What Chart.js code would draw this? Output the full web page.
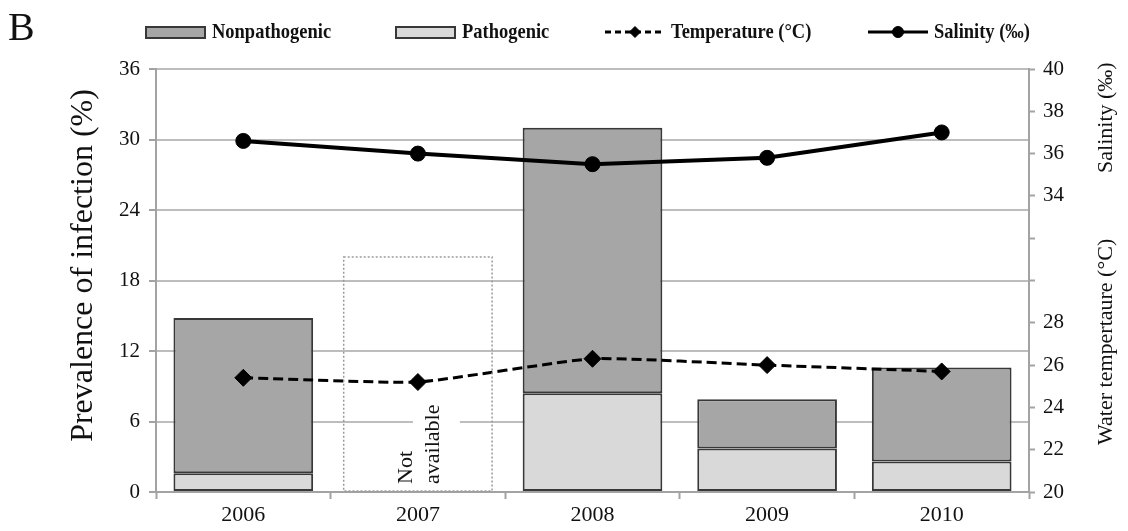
<!DOCTYPE html>
<html>
<head>
<meta charset="utf-8">
<script src="https://cdn.jsdelivr.net/npm/chart.js@4.4.1/dist/chart.umd.min.js"></script>
<style>
  html, body { margin: 0; padding: 0; background: #ffffff; }
  #wrap { width: 1128px; height: 531px; }
</style>
</head>
<body>
<div id="wrap"><canvas id="chart" width="1128" height="531"></canvas></div>
<script>
// Survey years
const years = ['2006', '2007', '2008', '2009', '2010'];

// Prevalence of infection (%), stacked: pathogenic at the base, nonpathogenic above
const pathogenic    = [1.6, null, 8.4, 3.7, 2.6];
const nonpathogenic = [13.2, null, 22.6, 4.2, 8.0];
// 2007 had no prevalence data; a dotted placeholder box is drawn there
const notAvailable  = [null, 20, null, null, null];

// Environmental series on the right-hand axis
const temperature = [25.4, 25.2, 26.3, 26.0, 25.7];   // °C
const salinity    = [36.6, 36.0, 35.5, 35.8, 37.0];   // ‰

// Axis ticks
const prevalenceTicks = [0, 6, 12, 18, 24, 30, 36];
const rightTickValues = [20, 22, 24, 26, 28, 30, 32, 34, 36, 38, 40];
const rightTickLabels = ['20', '22', '24', '26', '28', '', '', '34', '36', '38', '40'];

const legendLabels = ['Nonpathogenic', 'Pathogenic', 'Temperature (°C)', 'Salinity (‰)'];

const SERIF = "'Liberation Serif', 'Times New Roman', serif";
const AXIS_GREY = '#a3a3a3';

// Draws the panel letter, legend, axis titles and the 2007 placeholder note
const decorations = {
  id: 'decorations',
  beforeDatasetsDraw(chart) {
    const ctx = chart.ctx;
    const idx = chart.data.datasets.findIndex(d => d.label === 'Not available');
    const meta = chart.getDatasetMeta(idx);
    const i = notAvailable.findIndex(v => v !== null);
    const el = meta.data[i];
    // white backing behind the rotated note so the gridline breaks around it
    ctx.save();
    ctx.fillStyle = '#ffffff';
    ctx.fillRect(el.x - 5, el.base - 92, 47, 86);
    ctx.restore();
  },
  afterDatasetsDraw(chart) {
    const ctx = chart.ctx;
    const idx = chart.data.datasets.findIndex(d => d.label === 'Not available');
    const meta = chart.getDatasetMeta(idx);
    const i = notAvailable.findIndex(v => v !== null);
    const el = meta.data[i];
    const props = el.getProps(['x', 'y', 'base', 'width'], true);
    ctx.save();
    ctx.strokeStyle = '#9a9a9a';
    ctx.lineWidth = 1.5;
    ctx.setLineDash([2, 2]);
    ctx.strokeRect(props.x - props.width / 2, props.y, props.width, props.base - props.y);
    ctx.setLineDash([]);
    // rotated two-line note
    ctx.fillStyle = '#111111';
    ctx.font = '22px ' + SERIF;
    ctx.textAlign = 'left';
    ctx.textBaseline = 'middle';
    [['Not', -12], ['available', 15]].forEach(([t, dx]) => {
      ctx.save();
      ctx.translate(props.x + dx, props.base - 7);
      ctx.rotate(-Math.PI / 2);
      ctx.fillText(t, 0, 0);
      ctx.restore();
    });
    ctx.restore();
  },
  afterDraw(chart) {
    const ctx = chart.ctx;
    const area = chart.chartArea;
    const yR = chart.scales.yR;
    ctx.save();
    ctx.fillStyle = '#111111';

    // panel letter
    ctx.font = '40px ' + SERIF;
    ctx.textAlign = 'left';
    ctx.textBaseline = 'alphabetic';
    ctx.fillText('B', 8, 40);

    // left axis title
    ctx.save();
    ctx.font = '32px ' + SERIF;
    ctx.textAlign = 'center';
    ctx.textBaseline = 'middle';
    ctx.translate(84, (area.top + area.bottom) / 2 - 15);
    ctx.rotate(-Math.PI / 2);
    ctx.fillText('Prevalence of infection (%)', 0, 0);
    ctx.restore();

    // right axis titles: salinity over the upper ticks, temperature over the lower ones
    ctx.font = '22px ' + SERIF;
    ctx.textAlign = 'center';
    ctx.textBaseline = 'middle';
    [['Salinity (‰)', 37.7], ['Water tempertaure (°C)', 27.1]].forEach(([t, v]) => {
      ctx.save();
      ctx.translate(1106, yR.getPixelForValue(v));
      ctx.rotate(-Math.PI / 2);
      ctx.fillText(t, 0, 0);
      ctx.restore();
    });

    // legend
    const legendX = [146, 396, 605, 868];
    const legendY = 32;
    const sampleW = 60;
    legendLabels.forEach((label, k) => {
      const ds = chart.data.datasets.find(d => d.label === label);
      const x0 = legendX[k];
      if (ds.type === 'line') {
        ctx.save();
        ctx.strokeStyle = ds.borderColor;
        ctx.lineWidth = 3;
        ctx.setLineDash(ds.borderDash && ds.borderDash.length ? [6, 4] : []);
        ctx.beginPath();
        ctx.moveTo(x0, legendY);
        ctx.lineTo(x0 + sampleW, legendY);
        ctx.stroke();
        ctx.setLineDash([]);
        ctx.fillStyle = ds.pointBackgroundColor;
        ctx.strokeStyle = ds.pointBorderColor;
        ctx.lineWidth = 1;
        Chart.helpers.drawPoint(ctx, { pointStyle: ds.pointStyle, radius: 5.5, borderWidth: 1, rotation: 0 },
          x0 + sampleW / 2, legendY);
        ctx.restore();
      } else {
        ctx.save();
        ctx.fillStyle = ds.backgroundColor;
        ctx.strokeStyle = ds.borderColor;
        ctx.lineWidth = 2;
        ctx.fillRect(x0, legendY - 5, sampleW - 1, 11);
        ctx.strokeRect(x0, legendY - 5, sampleW - 1, 11);
        ctx.restore();
      }
      // narrow bold face for the legend entries
      ctx.save();
      ctx.fillStyle = '#111111';
      ctx.font = 'bold 21px ' + SERIF;
      ctx.textBaseline = 'middle';
      ctx.textAlign = 'left';
      ctx.translate(x0 + sampleW + 6, legendY + 1);
      ctx.scale(0.88, 1);
      ctx.fillText(label, 0, 0);
      ctx.restore();
    });
    ctx.restore();
  }
};

const chart = new Chart(document.getElementById('chart'), {
  data: {
    labels: years,
    datasets: [
      {
        type: 'line', label: 'Temperature (°C)', data: temperature, yAxisID: 'yR', order: 0,
        borderColor: '#000000', borderWidth: 3, borderDash: [10, 5],
        pointStyle: 'rectRot', pointRadius: 8.5, pointBackgroundColor: '#000000',
        pointBorderColor: '#000000', pointBorderWidth: 1, tension: 0.15, fill: false
      },
      {
        type: 'line', label: 'Salinity (‰)', data: salinity, yAxisID: 'yR', order: 0,
        borderColor: '#000000', borderWidth: 4,
        pointStyle: 'circle', pointRadius: 7.5, pointBackgroundColor: '#000000',
        pointBorderColor: '#000000', pointBorderWidth: 1, tension: 0, fill: false
      },
      {
        type: 'bar', label: 'Pathogenic', data: pathogenic, yAxisID: 'y', order: 1,
        backgroundColor: '#d9d9d9', borderColor: '#383838', borderWidth: 2, borderSkipped: false,
        barPercentage: 0.8, categoryPercentage: 1.0
      },
      {
        type: 'bar', label: 'Nonpathogenic', data: nonpathogenic, yAxisID: 'y', order: 1,
        backgroundColor: '#a6a6a6', borderColor: '#383838', borderWidth: 2, borderSkipped: false,
        barPercentage: 0.8, categoryPercentage: 1.0
      },
      {
        type: 'bar', label: 'Not available', data: notAvailable, yAxisID: 'y', order: 1,
        backgroundColor: 'rgba(0,0,0,0)', borderWidth: 0,
        barPercentage: 0.85, categoryPercentage: 1.0
      }
    ]
  },
  options: {
    responsive: false,
    animation: false,
    devicePixelRatio: 1,
    layout: { padding: { top: 69, left: 0, right: 0, bottom: 0 } },
    plugins: { legend: { display: false }, tooltip: { enabled: false } },
    scales: {
      x: {
        stacked: true,
        afterFit(s) { s.height = 39; },
        border: { color: AXIS_GREY, width: 2 },
        grid: { offset: true, drawOnChartArea: false, drawTicks: true, tickLength: 7, tickColor: AXIS_GREY, tickWidth: 2 },
        ticks: { color: '#111111', font: { family: SERIF, size: 22 }, padding: 3, maxRotation: 0 }
      },
      y: {
        stacked: true,
        position: 'left',
        min: 0, max: 36,
        afterFit(s) { s.width = 156; },
        afterBuildTicks(s) { s.ticks = prevalenceTicks.map(v => ({ value: v })); },
        border: { color: AXIS_GREY, width: 2 },
        grid: { color: '#bdbdbd', lineWidth: 2, drawTicks: true, tickLength: 7, tickColor: AXIS_GREY, tickWidth: 2 },
        ticks: { color: '#111111', font: { family: SERIF, size: 21 }, padding: 9 }
      },
      yR: {
        position: 'right',
        min: 20, max: 40,
        afterFit(s) { s.width = 99; },
        afterBuildTicks(s) { s.ticks = rightTickValues.map(v => ({ value: v })); },
        border: { color: AXIS_GREY, width: 2 },
        grid: { drawOnChartArea: false, drawTicks: true, tickLength: 6, tickColor: AXIS_GREY, tickWidth: 2 },
        ticks: {
          color: '#111111', font: { family: SERIF, size: 21 }, padding: 8,
          callback(value) {
            const k = rightTickValues.indexOf(value);
            return k >= 0 ? rightTickLabels[k] : '';
          }
        }
      }
    }
  },
  plugins: [decorations]
});
</script>
</body>
</html>
